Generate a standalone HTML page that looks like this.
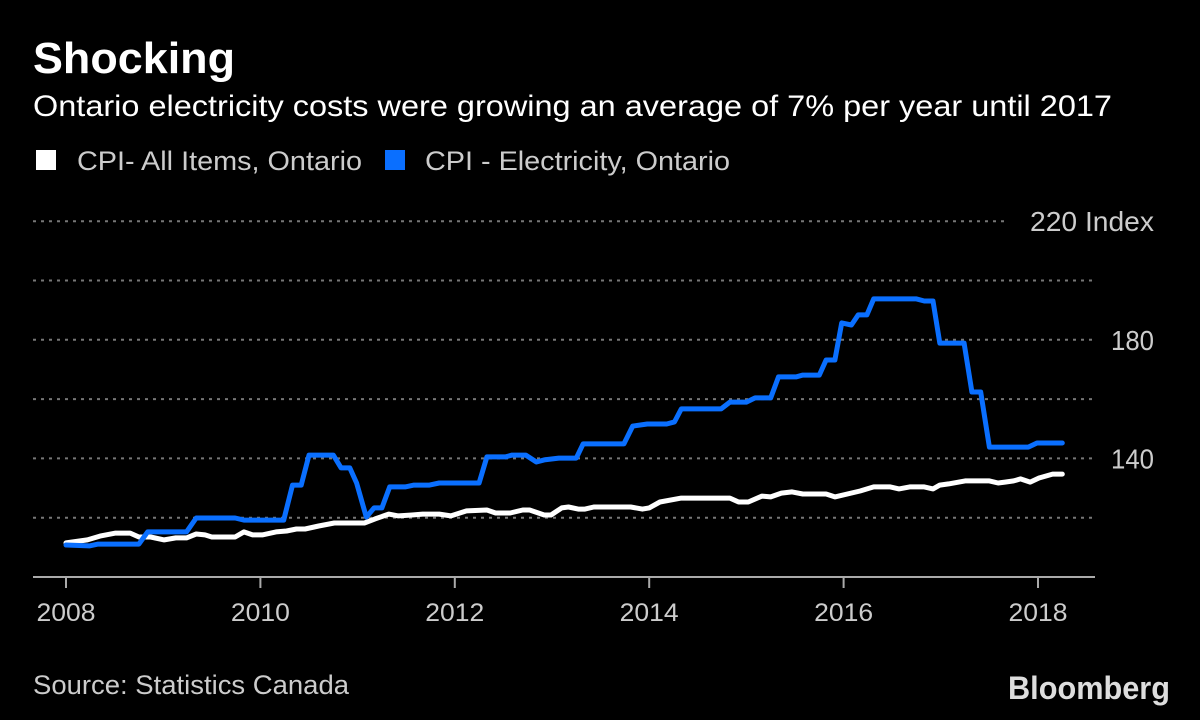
<!DOCTYPE html>
<html><head><meta charset="utf-8"><style>
html,body{margin:0;padding:0;background:#000;}
svg{display:block;font-family:"Liberation Sans",sans-serif;}
</style></head><body>
<svg id="chart" width="1200" height="720" viewBox="0 0 1200 720">
<rect x="0" y="0" width="1200" height="720" fill="#000"/>
<text x="33" y="73" fill="#fff" font-size="44" font-weight="bold" textLength="202" lengthAdjust="spacingAndGlyphs">Shocking</text>
<text x="33" y="116" fill="#fff" font-size="30" textLength="1079" lengthAdjust="spacingAndGlyphs">Ontario electricity costs were growing an average of 7% per year until 2017</text>
<g>
<rect x="36" y="150" width="20" height="20" fill="#fff"/>
<text x="77" y="170" fill="#ccc" font-size="27" textLength="285" lengthAdjust="spacingAndGlyphs">CPI- All Items, Ontario</text>
<rect x="385" y="150" width="20" height="20" fill="#0a6fff"/>
<text x="425" y="170" fill="#ccc" font-size="27" textLength="305" lengthAdjust="spacingAndGlyphs">CPI - Electricity, Ontario</text>
</g>
<g id="grid"></g>
<g id="yaxis"></g>
<g id="xaxis"></g>
<g id="series"></g>
<text x="33" y="694" fill="#ccc" font-size="27" textLength="316" lengthAdjust="spacingAndGlyphs">Source: Statistics Canada</text>
<text x="1008" y="699" fill="#ddd" font-size="32" font-weight="bold" textLength="162" lengthAdjust="spacingAndGlyphs">Bloomberg</text>
</svg>
<script>
const yTicks = [120, 140, 160, 180, 200, 220];
const yTickLabels = ["", "140", "", "180", "", "220 Index"];
const xTicks = [2008, 2010, 2012, 2014, 2016, 2018];
const xTickLabels = ["2008", "2010", "2012", "2014", "2016", "2018"];
const elecDates = [2008.00,2008.24,2008.33,2008.75,2008.84,2009.24,2009.34,2009.74,2009.83,2010.24,2010.33,2010.42,2010.50,2010.75,2010.83,2010.92,2010.99,2011.09,2011.17,2011.25,2011.33,2011.49,2011.58,2011.74,2011.84,2012.25,2012.33,2012.52,2012.59,2012.73,2012.84,2012.92,2013.07,2013.25,2013.32,2013.74,2013.83,2013.98,2014.18,2014.26,2014.33,2014.74,2014.83,2015.00,2015.09,2015.25,2015.33,2015.51,2015.58,2015.75,2015.82,2015.91,2015.98,2016.08,2016.15,2016.24,2016.31,2016.75,2016.83,2016.92,2016.99,2017.24,2017.32,2017.41,2017.50,2017.90,2017.99,2018.25];
const elecValues = [110.8,110.5,111.1,111.1,115.2,115.2,119.9,119.9,119.2,119.2,131.0,131.0,141.1,141.1,136.8,136.8,131.7,120.2,123.3,123.3,130.4,130.4,131.0,131.0,131.7,131.7,140.5,140.5,141.1,141.1,138.8,139.5,140.1,140.1,144.9,144.9,150.9,151.6,151.6,152.3,156.7,156.7,159.0,159.0,160.4,160.4,167.5,167.5,168.1,168.1,173.2,173.2,185.7,185.0,188.4,188.4,193.8,193.8,193.1,193.1,178.9,178.9,162.4,162.4,143.8,143.8,145.2,145.2];
const allDates = [2008.00,2008.22,2008.35,2008.51,2008.66,2008.75,2008.87,2009.01,2009.13,2009.24,2009.34,2009.43,2009.50,2009.74,2009.83,2009.92,2010.02,2010.16,2010.27,2010.37,2010.46,2010.60,2010.76,2011.07,2011.18,2011.32,2011.42,2011.56,2011.67,2011.84,2011.96,2012.12,2012.33,2012.42,2012.57,2012.70,2012.77,2012.92,2012.99,2013.10,2013.17,2013.27,2013.34,2013.43,2013.81,2013.93,2014.00,2014.11,2014.33,2014.83,2014.92,2015.02,2015.16,2015.25,2015.36,2015.47,2015.58,2015.82,2015.91,2016.17,2016.31,2016.48,2016.57,2016.68,2016.83,2016.92,2016.99,2017.08,2017.25,2017.50,2017.59,2017.66,2017.75,2017.82,2017.92,2018.01,2018.15,2018.25];
const allValues = [111.5,112.5,113.8,114.8,114.8,113.5,113.5,112.5,113.2,113.2,114.5,114.2,113.5,113.5,115.2,114.2,114.2,115.2,115.5,116.2,116.2,117.2,118.2,118.2,119.6,121.2,120.6,120.9,121.2,121.2,120.6,122.3,122.6,121.6,121.6,122.6,122.6,120.9,120.9,123.3,123.6,122.9,122.9,123.6,123.6,122.9,123.3,125.3,126.6,126.6,125.3,125.3,127.3,127.0,128.3,128.7,128.0,128.0,127.0,129.0,130.4,130.4,129.7,130.4,130.4,129.7,131.0,131.4,132.4,132.4,131.7,132.0,132.4,133.1,132.0,133.4,134.7,134.7];

const NS = "http://www.w3.org/2000/svg";
const X0 = 33, X1 = 1095, Y_BASE = 577;
function xScale(t){ return 66 + (t - 2008) * 97.2; }
function yScale(v){ return Y_BASE - (v - 100) * 2.965; }
function mk(tag, attrs, parent){
  const e = document.createElementNS(NS, tag);
  for (const k in attrs) e.setAttribute(k, attrs[k]);
  parent.appendChild(e);
  return e;
}
const grid = document.getElementById('grid');
const yaxis = document.getElementById('yaxis');
const xaxis = document.getElementById('xaxis');
const series = document.getElementById('series');

yTicks.forEach((v, i) => {
  const y = yScale(v);
  const label = yTickLabels[i];
  const xEnd = label.length > 4 ? 1008 : X1;
  const g = mk('line', {x1: X0, x2: xEnd, y1: y, y2: y, stroke: '#777', 'stroke-width': 2, 'stroke-dasharray': '3 5'}, grid);
  
  
  if (label) {
    const w = label.length > 4 ? 124 : 43;
    const t = mk('text', {x: 1154 - w, y: y + 10, fill: '#ccc', 'font-size': 28, textLength: w, lengthAdjust: 'spacingAndGlyphs'}, yaxis);
    t.textContent = label;
    
    
  }
});
const base = mk('line', {x1: X0, x2: X1, y1: Y_BASE, y2: Y_BASE, stroke: '#aaa', 'stroke-width': 2}, xaxis);


xTicks.forEach((yr, i) => {
  const x = xScale(yr);
  const tk = mk('line', {x1: x, x2: x, y1: Y_BASE, y2: Y_BASE + 11, stroke: '#aaa', 'stroke-width': 2}, xaxis);
  
  
  const t = mk('text', {x: x - 29.5, y: 621, fill: '#ccc', 'font-size': 25, textLength: 59, lengthAdjust: 'spacingAndGlyphs'}, xaxis);
  t.textContent = xTickLabels[i];
  
  
});
function pathFor(ds, vs){
  return ds.map((d, i) => (i ? 'L' : 'M') + xScale(d).toFixed(1) + ' ' + yScale(vs[i]).toFixed(1)).join(' ');
}
const pAll = mk('path', {d: pathFor(allDates, allValues), fill: 'none', stroke: '#fff', 'stroke-width': 5, 'stroke-linejoin': 'round', 'stroke-linecap': 'round'}, series);


const pEl = mk('path', {d: pathFor(elecDates, elecValues), fill: 'none', stroke: '#0a6fff', 'stroke-width': 5, 'stroke-linejoin': 'round', 'stroke-linecap': 'round'}, series);


</script>
</body></html>
